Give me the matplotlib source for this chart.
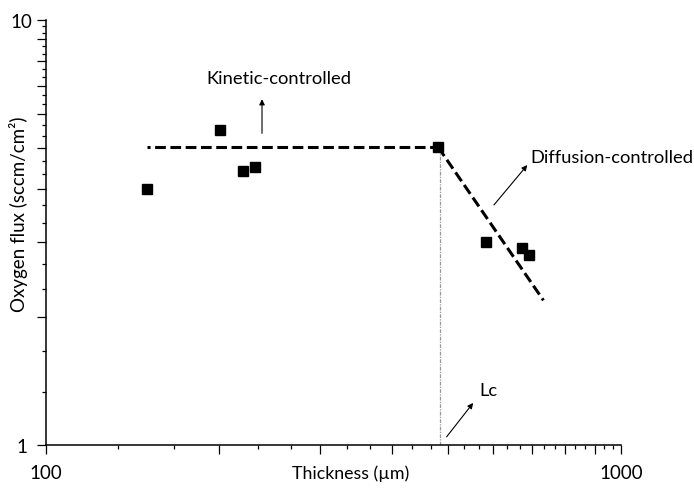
import numpy as np
import matplotlib
matplotlib.use("Agg")
import matplotlib.pyplot as plt
from matplotlib.ticker import FixedLocator, FuncFormatter

plt.rcParams['font.family'] = ['Lato', 'DejaVu Sans']

# measured points (thickness in um, flux in sccm/cm2)
thickness = [150, 201, 220, 231, 481, 582, 672, 693]
flux = [4.00, 5.51, 4.41, 4.50, 5.02, 3.00, 2.91, 2.80]

# fitted guide lines
kinetic_x = [150, 481]
kinetic_y = [5.02, 5.02]
diffusion_x = [481, 733]
diffusion_y = [5.02, 2.19]
lc = 485

fig = plt.figure(figsize=(6.94, 4.89), dpi=100)
ax = fig.add_axes([0.0663, 0.0879, 0.8285, 0.8691])

ax.plot(kinetic_x, kinetic_y, color='black', lw=2.2, ls=(2.5, (3.5, 1.5)))
ax.plot(diffusion_x, diffusion_y, color='black', lw=2.2, ls=(0, (3.5, 1.5)))
ax.plot([lc, lc], [1, kinetic_y[0]], color='#999999', lw=0.9, ls=(0, (3, 1, 1, 1)))
ax.plot(thickness, flux, 's', color='black', ms=7.5, zorder=5)

ax.set_xscale('log')
ax.set_yscale('log')
ax.set_xlim(100, 1000)
ax.set_ylim(1, 10)

for s in ['top', 'right']:
    ax.spines[s].set_visible(False)
for s in ['left', 'bottom']:
    ax.spines[s].set_linewidth(1.1)

# Origin-style ticks: major every 100 / every 1, two minor between
xmaj = np.arange(100, 1001, 100)
xmin = [v + d for v in range(100, 1000, 100) for d in (100 / 3, 200 / 3)]
ymaj = np.arange(1, 11, 1)
ymin = [v + d for v in range(1, 10) for d in (1 / 3, 2 / 3)]
ax.xaxis.set_major_locator(FixedLocator(xmaj))
ax.xaxis.set_minor_locator(FixedLocator(xmin))
ax.yaxis.set_major_locator(FixedLocator(ymaj))
ax.yaxis.set_minor_locator(FixedLocator(ymin))
ax.xaxis.set_major_formatter(FuncFormatter(lambda v, p: '%d' % v if v in (100, 1000) else ''))
ax.yaxis.set_major_formatter(FuncFormatter(lambda v, p: '%d' % v if v in (1, 10) else ''))
ax.xaxis.set_minor_formatter(FuncFormatter(lambda v, p: ''))
ax.yaxis.set_minor_formatter(FuncFormatter(lambda v, p: ''))
ax.tick_params(which='major', length=6.5, width=0.9, labelsize=13.5)
ax.tick_params(which='minor', length=3.2, width=0.9)
ax.tick_params(axis='x', which='major', pad=7)
ax.tick_params(axis='y', which='major', pad=11)
for lab in ax.get_yticklabels():
    lab.set_ha('center')

ax.set_xlabel('Thickness (µm)', fontsize=12.8)
ax.set_ylabel('Oxygen flux (sccm/cm²)', fontsize=13.5)
ax.xaxis.set_label_coords(0.53, -0.045)
ax.yaxis.set_label_coords(-0.032, 0.545)

arrow = dict(arrowstyle='-|>', color='black', lw=0.8, mutation_scale=8)
ax.annotate('', xy=(237.5, 6.61), xytext=(237.5, 5.33), arrowprops=arrow)
ax.text(254, 7.30, 'Kinetic-controlled', fontsize=13.2, ha='center', va='center')

ax.annotate('', xy=(692, 4.61), xytext=(597, 3.63), arrowprops=arrow)
ax.text(695, 4.76, 'Diffusion-controlled', fontsize=13.2, ha='left', va='center')

ax.annotate('', xy=(557, 1.271), xytext=(494, 1.033), arrowprops=arrow)
ax.text(568, 1.347, 'Lc', fontsize=13.2, ha='left', va='center')

fig.savefig('out.png', dpi=100)
